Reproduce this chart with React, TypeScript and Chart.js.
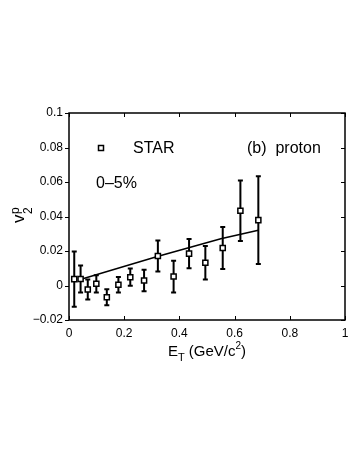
import React, { useEffect, useRef } from 'react';
import { Chart, registerables } from 'chart.js';

Chart.register(...registerables);

// STAR proton v2 vs transverse energy, 0-5% centrality
const etValues = [0.019, 0.042, 0.068, 0.099, 0.137, 0.179, 0.222, 0.272, 0.322, 0.379, 0.435, 0.494, 0.557, 0.621, 0.686];
const v2Values = [0.0037, 0.0038, -0.0023, 0.001, -0.0068, 0.0004, 0.0048, 0.0029, 0.0171, 0.0052, 0.0185, 0.0132, 0.0217, 0.0433, 0.0379];
const v2Errors = [0.016, 0.0078, 0.0058, 0.005, 0.0046, 0.0045, 0.005, 0.0063, 0.009, 0.0092, 0.0085, 0.0097, 0.0122, 0.0175, 0.0255];

// model curve
const curveEt = [0.05, 0.32, 0.55, 0.686];
const curveV2 = [0.0039, 0.0168, 0.0271, 0.032];

const xTickValues = [0, 0.2, 0.4, 0.6, 0.8, 1];
const yTickValues = [-0.02, 0, 0.02, 0.04, 0.06, 0.08, 0.1];

const FONT = "'Liberation Sans', Arial, Helvetica, sans-serif";

function fmt(v: number): string {
  const s = String(Number(v.toFixed(3)));
  return s.replace('-', '\u2212');
}

const errorBarPlugin = {
  id: 'errorBars',
  beforeDatasetDraw(chart: any, args: any) {
    if (args.index !== 1) return;
    const ctx = chart.ctx;
    const xs = chart.scales.x;
    const ys = chart.scales.y;
    ctx.save();
    ctx.strokeStyle = '#000';
    ctx.lineWidth = 2;
    for (let i = 0; i < etValues.length; i++) {
      const x = xs.getPixelForValue(etValues[i]);
      const y1 = ys.getPixelForValue(v2Values[i] + v2Errors[i]);
      const y2 = ys.getPixelForValue(v2Values[i] - v2Errors[i]);
      ctx.beginPath();
      ctx.moveTo(x, y1);
      ctx.lineTo(x, y2);
      ctx.moveTo(x - 2.5, y1);
      ctx.lineTo(x + 2.5, y1);
      ctx.moveTo(x - 2.5, y2);
      ctx.lineTo(x + 2.5, y2);
      ctx.stroke();
    }
    ctx.restore();
  },
};

const framePlugin = {
  id: 'frame',
  afterDraw(chart: any) {
    const ctx = chart.ctx;
    const { left, right, top, bottom } = chart.chartArea;
    const xs = chart.scales.x;
    const ys = chart.scales.y;
    ctx.save();
    ctx.strokeStyle = '#000';
    ctx.lineWidth = 1.5;
    ctx.strokeRect(left, top, right - left, bottom - top);
    ctx.lineWidth = 1;
    ctx.beginPath();
    for (const v of yTickValues) {
      const y = Math.round(ys.getPixelForValue(v)) + 0.5;
      ctx.moveTo(left - 4, y);
      ctx.lineTo(left, y);
      ctx.moveTo(right - 4, y);
      ctx.lineTo(right, y);
    }
    for (const v of xTickValues) {
      const x = Math.round(xs.getPixelForValue(v)) + 0.5;
      ctx.moveTo(x, bottom);
      ctx.lineTo(x, bottom - 4);
      ctx.moveTo(x, top);
      ctx.lineTo(x, top + 4);
    }
    ctx.stroke();

    // legend / annotations
    ctx.fillStyle = '#000';
    ctx.textBaseline = 'middle';
    ctx.textAlign = 'left';
    ctx.font = `16px ${FONT}`;
    ctx.lineWidth = 1.5;
    ctx.fillStyle = '#fff';
    ctx.fillRect(98.5, 145.5, 5, 5);
    ctx.strokeRect(98.5, 145.5, 5, 5);
    ctx.fillStyle = '#000';
    ctx.fillText('STAR', 133, 149);
    ctx.fillText('(b)  proton', 247, 149);
    ctx.fillText('0\u20135%', 96, 184);

    // y axis title v2^p
    ctx.save();
    ctx.translate(24, 223);
    ctx.rotate(-Math.PI / 2);
    ctx.textBaseline = 'alphabetic';
    ctx.font = `17px ${FONT}`;
    ctx.fillText('v', 0, 0);
    const vw = ctx.measureText('v').width;
    ctx.font = `12px ${FONT}`;
    ctx.fillText('p', vw + 0.5, -5);
    ctx.fillText('2', vw + 0.5, 8);
    ctx.restore();

    // x axis title E_T (GeV/c^2)
    ctx.textBaseline = 'alphabetic';
    const base = 356;
    const parts: [string, number, number][] = [
      ['E', 15, 0],
      ['T', 11, 5],
      [' (GeV/c', 15, 0],
      ['2', 10, -7],
      [')', 15, 0],
    ];
    let total = 0;
    for (const [t, s] of parts) {
      ctx.font = `${s}px ${FONT}`;
      total += ctx.measureText(t).width;
    }
    let x = (left + right) / 2 - total / 2;
    for (const [t, s, dy] of parts) {
      ctx.font = `${s}px ${FONT}`;
      ctx.fillText(t, x, base + dy);
      x += ctx.measureText(t).width;
    }
    ctx.restore();
  },
};

export default function App() {
  const canvasRef = useRef<HTMLCanvasElement | null>(null);

  useEffect(() => {
    const canvas = canvasRef.current;
    if (!canvas) return;
    const chart = new Chart(canvas, {
      type: 'scatter',
      data: {
        datasets: [
          {
            type: 'line',
            label: 'model',
            data: curveEt.map((x, i) => ({ x, y: curveV2[i] })),
            borderColor: '#000',
            borderWidth: 1.5,
            pointRadius: 0,
            fill: false,
            tension: 0,
            order: 1,
          } as any,
          {
            label: 'STAR',
            data: etValues.map((x, i) => ({ x, y: v2Values[i] })),
            pointStyle: 'rect',
            pointRadius: 3.6,
            backgroundColor: '#fff',
            borderColor: '#000',
            borderWidth: 1.5,
            order: 0,
          },
        ],
      },
      options: {
        animation: false,
        responsive: false,
        devicePixelRatio: 1,
        layout: { padding: { left: 0, top: 113, right: 15, bottom: 0 } },
        plugins: {
          legend: { display: false },
          tooltip: { enabled: false },
          title: { display: false },
        },
        scales: {
          x: {
            type: 'linear',
            min: 0,
            max: 1,
            afterFit: (s: any) => { s.height = 146; },
            afterBuildTicks: (s: any) => { s.ticks = xTickValues.map((v) => ({ value: v })); },
            grid: { display: false, drawTicks: false },
            border: { display: false },
            ticks: {
              padding: 6,
              color: '#000',
              font: { family: FONT, size: 12 },
              maxRotation: 0,
              callback: (v: any) => fmt(Number(v)),
            },
          },
          y: {
            type: 'linear',
            min: -0.02,
            max: 0.1,
            afterFit: (s: any) => { s.width = 69; },
            afterBuildTicks: (s: any) => { s.ticks = yTickValues.map((v) => ({ value: v })); },
            grid: { display: false, drawTicks: false },
            border: { display: false },
            ticks: {
              padding: 6,
              color: '#000',
              font: { family: FONT, size: 12 },
              callback: (v: any) => fmt(Number(v)),
            },
          },
        },
      },
      plugins: [errorBarPlugin, framePlugin],
    });
    return () => chart.destroy();
  }, []);

  return (
    <div style={{ position: 'absolute', left: 0, top: 0, width: 360, height: 466, background: '#fff' }}>
      <canvas ref={canvasRef} width={360} height={466} style={{ width: 360, height: 466, display: 'block' }} />
    </div>
  );
}
